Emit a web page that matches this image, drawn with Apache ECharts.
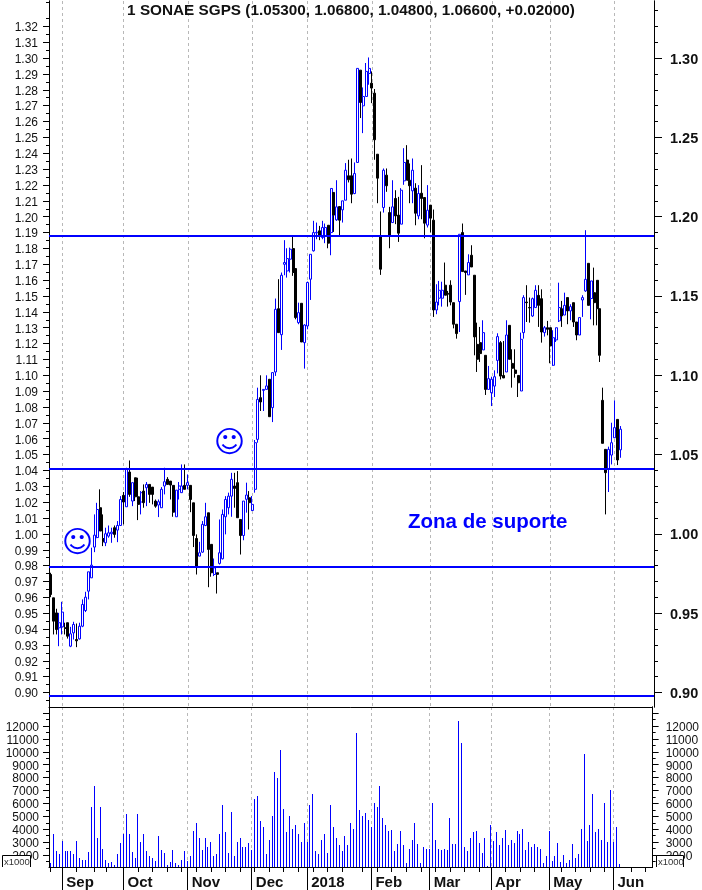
<!DOCTYPE html>
<html>
<head>
<meta charset="utf-8">
<style>html,body{margin:0;padding:0;background:#fff}#c{width:702px;height:890px}</style>
<script src="https://cdn.jsdelivr.net/npm/echarts@6/dist/echarts.min.js"></script>
</head>
<body>
<div id="c"></div>
<script>
var titleText = '1 SONAE SGPS (1.05300, 1.06800, 1.04800, 1.06600, +0.02000)';
var opens = [.9744,.9597,.9502,.9408,.9414,.9408,.9440,.9292,.9376,.9334,.9338,.9418,.9517,.9639,.9723,.9917,.9977,1.0165,.9971,.9944,.9986,1.0001,1.0039,1.0024,1.0053,1.0243,1.0171,1.0390,1.0207,1.0354,1.0234,1.0201,1.0270,1.0291,1.0312,1.0295,1.0207,1.0182,1.0165,1.0302,1.0344,1.0333,1.0306,1.0108,1.0281,1.0260,1.0306,1.0306,1.0306,1.0196,.9971,.9860,.9885,1.0053,1.0133,.9934,.9744,.9755,.9814,.9843,1.0108,1.0165,1.0238,1.0302,1.0323,1.0091,.9990,1.0218,1.0228,1.0148,1.0281,1.0596,1.0859,1.0905,1.0911,1.0975,1.0796,1.1021,1.1420,1.1256,1.1700,1.1658,1.1732,1.1799,1.1673,1.1332,1.1454,1.1206,1.1311,1.1606,1.1785,1.1898,1.1911,1.1869,1.1879,1.1946,1.1900,1.2153,1.1980,1.2064,1.2043,1.2104,1.2258,1.2258,1.2146,1.2342,1.2924,1.2699,1.2758,1.2903,1.2842,1.2779,1.2394,1.1879,1.2058,1.2262,1.2026,1.1963,1.2115,1.2010,1.1953,1.2226,1.2357,1.2230,1.2163,1.2180,1.2005,1.2148,1.2121,1.1947,1.2073,1.1978,1.1412,1.1486,1.1486,1.1568,1.1517,1.1568,1.1458,1.1322,1.1465,1.1900,1.1658,1.1633,1.1757,1.1631,1.1195,1.1206,1.1160,1.1126,1.0911,1.0890,1.0932,1.1094,1.1206,1.0999,1.1021,1.1315,1.1075,1.1033,1.0999,1.0901,1.1269,1.1462,1.1427,1.1374,1.1427,1.1504,1.1483,1.1269,1.1300,1.1300,1.1063,1.1223,1.1343,1.1420,1.1380,1.1490,1.1406,1.1458,1.1336,1.1254,1.1475,1.1532,1.1706,1.1484,1.1521,1.1599,1.1420,1.0842,1.0533,1.0407,1.0497,1.0606,1.0722,1.053];
var closes = [.9618,.9450,.9397,.9440,.9507,.9404,.9355,.9370,.9429,.9326,.9418,.9555,.9601,.9761,.9803,.9992,1.0154,1.0018,.9950,1.0001,1.0007,1.0011,.9997,1.0053,1.0217,1.0201,1.0407,1.0249,1.0323,1.0234,1.0186,1.0260,1.0197,1.0312,1.0249,1.0249,1.0175,1.0203,1.0281,1.0329,1.0312,1.0308,1.0137,1.0276,1.0302,1.0302,1.0281,1.0323,1.0217,.9990,.9795,.9881,1.0060,1.0108,.9902,.9755,.9786,.9745,.9881,1.0123,1.0217,1.0238,1.0344,1.0287,1.0102,.9990,1.0207,1.0245,1.0197,1.0186,1.0575,1.0848,1.0832,1.0911,1.0933,1.0739,1.1017,1.1416,1.1269,1.1631,1.1711,1.1736,1.1795,1.1648,1.1364,1.1395,1.1210,1.1317,1.1585,1.1763,1.1900,1.1902,1.1880,1.1932,1.1932,1.1833,1.2178,1.2010,1.2062,1.1978,1.2100,1.2293,1.2233,1.2142,1.2272,1.2935,1.2720,1.2758,1.2916,1.2935,1.2811,1.2485,1.2243,1.1669,1.2293,1.2195,1.1879,1.2062,1.2005,1.1896,1.2167,1.2342,1.2230,1.2195,1.2293,1.2022,1.2146,1.2115,1.1959,1.2041,1.1991,1.1412,1.1462,1.1536,1.1536,1.1505,1.1511,1.1462,1.1322,1.1263,1.1889,1.1654,1.1648,1.1711,1.1683,1.1242,1.1101,1.1137,1.1269,1.0911,1.0979,1.0975,1.0991,1.1244,1.0995,1.0983,1.1254,1.1101,1.1044,1.1012,1.0953,1.1227,1.1490,1.1458,1.1425,1.1483,1.1536,1.1441,1.1273,1.1300,1.1290,1.1185,1.1237,1.1300,1.1427,1.1374,1.1441,1.1406,1.1433,1.1336,1.1254,1.1364,1.1490,1.1605,1.1441,1.1595,1.1458,1.1420,1.1126,1.0571,1.0386,1.0533,1.0575,1.0670,1.0466,1.066];
var lows = [.9601,.9366,.9366,.9292,.9366,.9366,.9340,.9286,.9334,.9286,.9334,.9412,.9507,.9587,.9723,.9885,.9973,1.0018,.9923,.9923,.9976,.9944,.9976,.9948,1.0053,1.0060,1.0171,1.0234,1.0175,1.0207,1.0087,1.0123,1.0165,1.0175,1.0196,1.0186,1.0165,1.0106,1.0165,1.0249,1.0312,1.0217,1.0108,1.0108,1.0217,1.0260,1.0281,1.0281,1.0137,.9917,.9744,.9860,.9881,1.0049,.9664,.9730,.9734,.9624,.9807,.9839,.9997,1.0123,1.0108,1.0165,1.0102,.9870,.9960,1.0134,1.0028,1.0144,1.0260,1.0575,1.0775,1.0775,1.0911,1.0739,1.0705,1.0996,1.1269,1.1160,1.1631,1.1616,1.1648,1.1627,1.1353,1.1322,1.1210,1.1042,1.1290,1.1475,1.1780,1.1858,1.1852,1.1858,1.1833,1.1801,1.1757,1.1904,1.1974,1.1879,1.1963,1.2104,1.2216,1.2085,1.2142,1.2342,1.2622,1.2527,1.2758,1.2832,1.2716,1.2359,1.2085,1.1633,1.2026,1.2157,1.1801,1.1963,1.1953,1.1841,1.1953,1.2201,1.2230,1.2085,1.2085,1.1946,1.1984,1.1984,1.1864,1.1932,1.1900,1.1368,1.1385,1.1441,1.1433,1.1505,1.1433,1.1441,1.1296,1.1231,1.1273,1.1654,1.1507,1.1633,1.1683,1.1126,1.1021,1.1084,1.1160,1.0876,1.0911,1.0806,1.0863,1.1012,1.0974,1.0983,1.1021,1.1101,1.0922,1.0985,1.0863,1.0901,1.1231,1.1336,1.1332,1.1368,1.1427,1.1305,1.1206,1.1244,1.1252,1.1076,1.1059,1.1210,1.1336,1.1305,1.1380,1.1322,1.1347,1.1305,1.1221,1.1254,1.1368,1.1526,1.1441,1.1353,1.1315,1.1315,1.1084,1.0571,1.0123,1.0264,1.0438,1.0606,1.0434,1.048];
var highs = [.9755,.9597,.9528,.9502,.9572,.9440,.9440,.9414,.9446,.9435,.9440,.9587,.9635,.9761,.9913,1.0123,1.0196,1.0281,1.0123,1.0039,1.0053,1.0039,1.0053,1.0081,1.0238,1.0264,1.0417,1.0463,1.0323,1.0354,1.0354,1.0270,1.0312,1.0327,1.0312,1.0295,1.0217,1.0217,1.0295,1.0417,1.0358,1.0333,1.0306,1.0276,1.0327,1.0438,1.0438,1.0375,1.0306,1.0196,.9997,.9950,1.0081,1.0196,1.0133,.9934,.9845,.9755,1.0091,1.0154,1.0238,1.0260,1.0385,1.0385,1.0396,1.0091,1.0207,1.0323,1.0270,1.0239,1.0592,1.0922,1.1000,1.0911,1.1000,1.0975,1.1017,1.1484,1.1606,1.1648,1.1852,1.1801,1.1805,1.1875,1.1673,1.1458,1.1454,1.1322,1.1591,1.1763,1.1974,1.1963,1.1942,1.1974,1.1957,1.1946,1.2178,1.2153,1.2230,1.2064,1.2100,1.2338,1.2359,1.2367,1.2342,1.2935,1.2924,1.2815,1.2969,1.3004,1.2916,1.2805,1.2394,1.2033,1.2304,1.2304,1.2062,1.2230,1.2167,1.2125,1.2180,1.2432,1.2451,1.2336,1.2367,1.2211,1.2199,1.2325,1.2121,1.2199,1.2073,1.2045,1.1574,1.1595,1.1590,1.1711,1.1532,1.1599,1.1458,1.1322,1.1889,1.1957,1.1658,1.1763,1.1820,1.1631,1.1332,1.1305,1.1347,1.1126,1.1059,1.0991,1.1031,1.1265,1.1216,1.1216,1.1347,1.1315,1.1164,1.1164,1.0999,1.1269,1.1505,1.1568,1.1490,1.1490,1.1568,1.1568,1.1542,1.1311,1.1343,1.1300,1.1284,1.1300,1.1584,1.1469,1.1521,1.1490,1.1448,1.1458,1.1336,1.1364,1.1505,1.1915,1.1706,1.1595,1.1679,1.1599,1.1420,1.0922,1.0533,1.0550,1.0701,1.0842,1.0722,1.068];
var volumes = [1350,3600,2300,2050,3050,2300,2300,2300,2050,3050,1750,1600,1600,2200,5700,7350,3350,5750,2500,1600,1350,1450,1200,2050,2900,3600,5150,3650,2200,1800,5150,3000,3600,2300,1900,1800,1500,3450,2350,2150,1200,1450,2350,1350,1200,1650,2300,1500,1900,3850,4450,3350,2350,3300,2650,3000,1900,2050,3650,5900,3750,2150,5350,1900,3000,3350,2650,2600,2900,2350,6350,6600,4600,4150,2050,3200,5000,8450,8000,10150,5600,3750,5000,4050,4350,3650,3000,4500,3000,5900,6750,2300,2050,3200,3600,2150,5850,4200,3350,2750,2300,3450,2800,4500,4050,11450,5500,5000,5250,4750,4200,6000,5700,7350,4850,4350,3850,3900,2300,2850,3850,2750,1350,2500,3150,4450,2850,1350,2650,2500,2500,6050,3200,2500,2350,2500,2350,4900,2850,2850,12400,10700,2650,2300,3300,3750,3850,2900,2150,3300,1150,4300,3050,3750,2750,3350,3900,2750,3150,2900,3850,3600,4050,2350,3000,2600,2850,2600,2500,1350,1900,3850,1500,1900,2900,1450,2000,1350,1650,2850,1800,2050,4000,9850,3050,4350,6700,3750,4050,3200,6050,3000,7050,3000,4150,1300];
var levels = [1.1877, 1.0412, 0.9790, 0.8980];
var monthNames = ['Sep','Oct','Nov','Dec','2018','Feb','Mar','Apr','May','Jun'];
var monthSlots = [4,25,47,69,88,110,130,151,171,193];
var weekSlots = [0,9,15,19,30,35,40,45,50,55,60,65,70,75,80,85,90,95,100,107,112,117,122,127,132,137,142,147,156,161,166,175,180,185,190,199,204];
var priceLeftTicks = ['0.90','0.91','0.92','0.93','0.94','0.95','0.96','0.97','0.98','0.99','1.00','1.01','1.02','1.03','1.04','1.05','1.06','1.07','1.08','1.09','1.10','1.11','1.12','1.13','1.14','1.15','1.16','1.17','1.18','1.19','1.20','1.21','1.22','1.23','1.24','1.25','1.26','1.27','1.28','1.29','1.30','1.31','1.32'];
var priceLeftMinor = [0.895,0.905,0.915,0.925,0.935,0.945,0.955,0.965,0.975,0.985,0.995,1.005,1.015,1.025,1.035,1.045,1.055,1.065,1.075,1.085,1.095,1.105,1.115,1.125,1.135,1.145,1.155,1.165,1.175,1.185,1.195,1.205,1.215,1.225,1.235,1.245,1.255,1.265,1.275,1.285,1.295,1.305,1.315,1.325,1.335];
var priceRightTicks = ['0.90','0.95','1.00','1.05','1.10','1.15','1.20','1.25','1.30'];
var priceRightMinor = [0.91,0.92,0.93,0.94,0.96,0.97,0.98,0.99,1.01,1.02,1.03,1.04,1.06,1.07,1.08,1.09,1.11,1.12,1.13,1.14,1.16,1.17,1.18,1.19,1.21,1.22,1.23,1.24,1.26,1.27,1.28,1.29,1.31,1.32,1.33];
var volumeTicks = [2000,3000,4000,5000,6000,7000,8000,9000,10000,11000,12000];
var volumeTickMarks = [2000,3000,4000,5000,6000,7000,8000,9000,10000,11000,12000,13000];
var volumeMinor = [1500,2500,3500,4500,5500,6500,7500,8500,9500,10500,11500,12500,13000];
var annotation = 'Zona de suporte';

var PMIN = 0.89086, PMAX = 1.3360, VMIN = 1070, VMAX = 13473, SLOTS = 207;
var FONT = '"Liberation Sans", Arial, sans-serif';
var INK = '#111', BLUE = '#0000ff';
var categories = [];
for (var k = 0; k < SLOTS; k++) categories.push('d' + k);
var candles = opens.map(function (o, i) { return [o, closes[i], lows[i], highs[i]]; });
var nums = function (a) { return a.map(Number); };

function xAxisBase(grid) {
  return { type: 'category', gridIndex: grid, data: categories, boundaryGap: true,
    axisLine: { show: false, onZero: false }, axisTick: { show: false }, axisLabel: { show: false }, splitLine: { show: false } };
}
function merge(a, b) { for (var k in b) a[k] = b[k]; return a; }
var dash = { show: true, alignWithLabel: true,
  interval: function (i) { return monthSlots.indexOf(i) >= 0; },
  lineStyle: { type: [3, 3], color: '#b8b8b8', width: 1 } };

function yAxis(grid, side, mn, mx, tickVals, tickLen, labels, size, margin, weight) {
  var a = { type: 'value', gridIndex: grid, position: side, min: mn, max: mx, scale: true,
    splitLine: { show: false },
    axisLine: { show: true, onZero: false, lineStyle: { color: '#000', width: 1 } },
    axisTick: { show: true, length: tickLen, customValues: tickVals, lineStyle: { color: '#000', width: 1 } },
    axisLabel: labels ? { show: true, customValues: nums(labels), fontFamily: FONT, fontSize: size, color: INK, margin: margin, fontWeight: weight || 'normal',
      hideOverlap: false, verticalAlign: 'top', lineHeight: 3,
      formatter: function (v) { return grid === 0 ? v.toFixed(2) : String(Math.round(v)); } } : { show: false } };
  return a;
}

var option = {
  animation: false,
  backgroundColor: '#fff',
  title: { text: titleText, left: 'center', top: 3, padding: 0,
    textStyle: { fontFamily: FONT, fontSize: 15.3, fontWeight: 'bold', color: INK } },
  grid: [
    { left: 49, right: 48, top: 1, height: 706, containLabel: false },
    { left: 49, right: 48, top: 707, height: 160, containLabel: false }
  ],
  xAxis: [
    merge(xAxisBase(0), { splitLine: dash }),
    merge(xAxisBase(1), { position: 'bottom', splitLine: dash,
      axisLine: { show: true, onZero: false, lineStyle: { color: '#000', width: 1 } },
      axisTick: { show: true, alignWithLabel: true, length: 5, lineStyle: { color: '#000' },
        interval: function (i) { return weekSlots.indexOf(i) >= 0; } } }),
    merge(xAxisBase(1), { position: 'bottom',
      axisTick: { show: true, alignWithLabel: true, length: 23, lineStyle: { color: '#000' },
        interval: function (i) { return monthSlots.indexOf(i) >= 0; } },
      axisLabel: { show: true, align: 'left', margin: 8, fontFamily: FONT, fontSize: 15, fontWeight: 'bold', color: INK,
        hideOverlap: false,
        interval: function (i) { return monthSlots.indexOf(i) >= 0; },
        formatter: function (v, i) { return ' ' + monthNames[monthSlots.indexOf(i)]; } } }),
    merge(xAxisBase(1), { position: 'top',
      axisLine: { show: true, onZero: false, lineStyle: { color: '#000', width: 1 } } })
  ],
  yAxis: [
    yAxis(0, 'left', PMIN, PMAX, nums(priceLeftTicks), 6, priceLeftTicks, 12, 11),
    yAxis(0, 'left', PMIN, PMAX, priceLeftMinor, 3, null),
    yAxis(0, 'right', PMIN, PMAX, nums(priceRightTicks), 8, priceRightTicks, 14.5, 16, 'bold'),
    yAxis(0, 'right', PMIN, PMAX, priceRightMinor, 4, null),
    yAxis(1, 'left', VMIN, VMAX, volumeTickMarks, 6, volumeTicks, 12, 10),
    yAxis(1, 'left', VMIN, VMAX, volumeMinor, 3, null),
    yAxis(1, 'right', VMIN, VMAX, volumeTickMarks, 6, volumeTicks, 12, 13),
    yAxis(1, 'right', VMIN, VMAX, volumeMinor, 3, null)
  ],
  series: [
    { type: 'candlestick', name: 'SONAE', xAxisIndex: 0, yAxisIndex: 0, data: candles, barWidth: 2.5,
      itemStyle: { color: '#fff', color0: '#000', borderColor: BLUE, borderColor0: '#000', borderWidth: 1 },
      markLine: { silent: true, symbol: 'none', animation: false, precision: 4, label: { show: false },
        lineStyle: { color: BLUE, width: 2, type: 'solid' },
        data: levels.map(function (v) { return { yAxis: v }; }) } },
    { type: 'custom', name: 'Volume', xAxisIndex: 1, yAxisIndex: 4,
      data: volumes.map(function (v, i) { return [i, v]; }),
      encode: { x: 0, y: 1 },
      renderItem: function (params, api) {
        var top = api.coord([api.value(0), api.value(1)]);
        var base = api.coord([api.value(0), VMIN]);
        var y = Math.round(top[1]);
        return { type: 'rect', shape: { x: Math.round(top[0] - 0.5), y: y, width: 1, height: Math.round(base[1]) - y }, style: { fill: BLUE } };
      } }
  ],
  graphic: [
    { type: 'text', left: 408, top: 512, z: 50, style: { text: annotation, fontFamily: FONT, fontSize: 20.5, fontWeight: 'bold', fill: BLUE } },
    { type: 'text', left: 62, top: 529, z: 50, style: { text: '\u263A', fontFamily: '"DejaVu Sans"', fontSize: 30, fill: BLUE } },
    { type: 'text', left: 214, top: 429, z: 50, style: { text: '\u263A', fontFamily: '"DejaVu Sans"', fontSize: 30, fill: BLUE } },
    { type: 'rect', z: 60, shape: { x: 2.5, y: 855.5, width: 28, height: 12 }, style: { fill: '#fff', stroke: null } },
    { type: 'polyline', z: 61, shape: { points: [[2.5, 867], [2.5, 855.5], [30.5, 855.5], [30.5, 867]] }, style: { stroke: '#000', fill: null, lineWidth: 1 } },
    { type: 'text', z: 62, left: 4, top: 857, style: { text: 'x1000', fontFamily: FONT, fontSize: 9.5, fill: '#333' } },
    { type: 'rect', z: 60, shape: { x: 656.5, y: 855.5, width: 27, height: 12 }, style: { fill: '#fff', stroke: null } },
    { type: 'polyline', z: 61, shape: { points: [[656.5, 867], [656.5, 855.5], [683.5, 855.5], [683.5, 867]] }, style: { stroke: '#000', fill: null, lineWidth: 1 } },
    { type: 'text', z: 62, left: 658, top: 857, style: { text: 'x1000', fontFamily: FONT, fontSize: 9.5, fill: '#333' } }
  ]
};
echarts.init(document.getElementById('c'), null, { renderer: 'canvas' }).setOption(option);
</script>
</body>
</html>
